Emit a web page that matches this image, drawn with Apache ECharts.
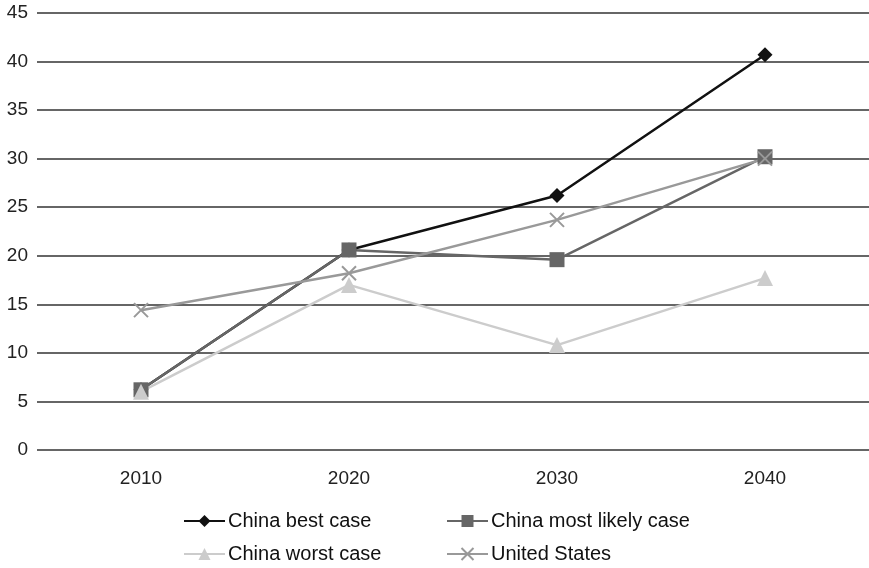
<!DOCTYPE html>
<html><head><meta charset="utf-8">
<script src="https://cdn.jsdelivr.net/npm/echarts@6/dist/echarts.min.js"></script>
<style>html,body{margin:0;padding:0;background:#fff}#c{width:869px;height:568px}</style>
</head><body><div id="c"></div>
<script>
var categories = ['2010', '2020', '2030', '2040'];
var bestCase = [6.2, 20.6, 26.2, 40.7];
var likelyCase = [6.2, 20.6, 19.6, 30.2];
var worstCase = [6.0, 17.0, 10.8, 17.7];
var unitedStates = [14.4, 18.2, 23.7, 30.0];
var seriesNames = ['China best case', 'China most likely case', 'China worst case', 'United States'];

var xPath = 'path://M0,0L10,10M10,0L0,10';
var chart = echarts.init(document.getElementById('c'));
var font = 'Liberation Sans, Arial, sans-serif';
function legendAt(name, left, top) {
  return {
    data: [name], left: left, top: top, itemWidth: 41, itemHeight: 15, itemGap: 0,
    textStyle: {fontFamily: font, fontSize: 20, color: '#111', padding: [0, 0, 0, -2]}, padding: 0
  };
}
chart.setOption({
  animation: false,
  grid: {left: 37, right: 0, top: 13, bottom: 118, containLabel: false},
  xAxis: {
    type: 'category', data: categories, boundaryGap: true,
    axisLine: {show: false}, axisTick: {show: false},
    axisLabel: {fontFamily: font, fontSize: 19, color: '#222', margin: 19}
  },
  yAxis: {
    type: 'value', min: 0, max: 45, interval: 5,
    axisLine: {show: false}, axisTick: {show: false},
    axisLabel: {fontFamily: font, fontSize: 19, color: '#222', margin: 9},
    splitLine: {lineStyle: {color: '#333', width: 1.5}}
  },
  legend: [
    legendAt(seriesNames[0], 183, 511),
    legendAt(seriesNames[1], 446, 511),
    legendAt(seriesNames[2], 183, 544),
    legendAt(seriesNames[3], 446, 544)
  ],
  series: [
    {name: seriesNames[0], type: 'line', data: bestCase, symbol: 'diamond', symbolSize: 15,
     lineStyle: {color: '#111', width: 2.5}, itemStyle: {color: '#111'}},
    {name: seriesNames[1], type: 'line', data: likelyCase, symbol: 'rect', symbolSize: 15,
     lineStyle: {color: '#666', width: 2.5}, itemStyle: {color: '#666'}},
    {name: seriesNames[2], type: 'line', data: worstCase, symbol: 'triangle', symbolSize: 16,
     lineStyle: {color: '#ccc', width: 2.5}, itemStyle: {color: '#ccc'}},
    {name: seriesNames[3], type: 'line', data: unitedStates, symbol: xPath, symbolSize: 14,
     lineStyle: {color: '#999', width: 2.5}, itemStyle: {color: 'rgba(0,0,0,0)', borderColor: '#999', borderWidth: 2}}
  ]
});
</script></body></html>
